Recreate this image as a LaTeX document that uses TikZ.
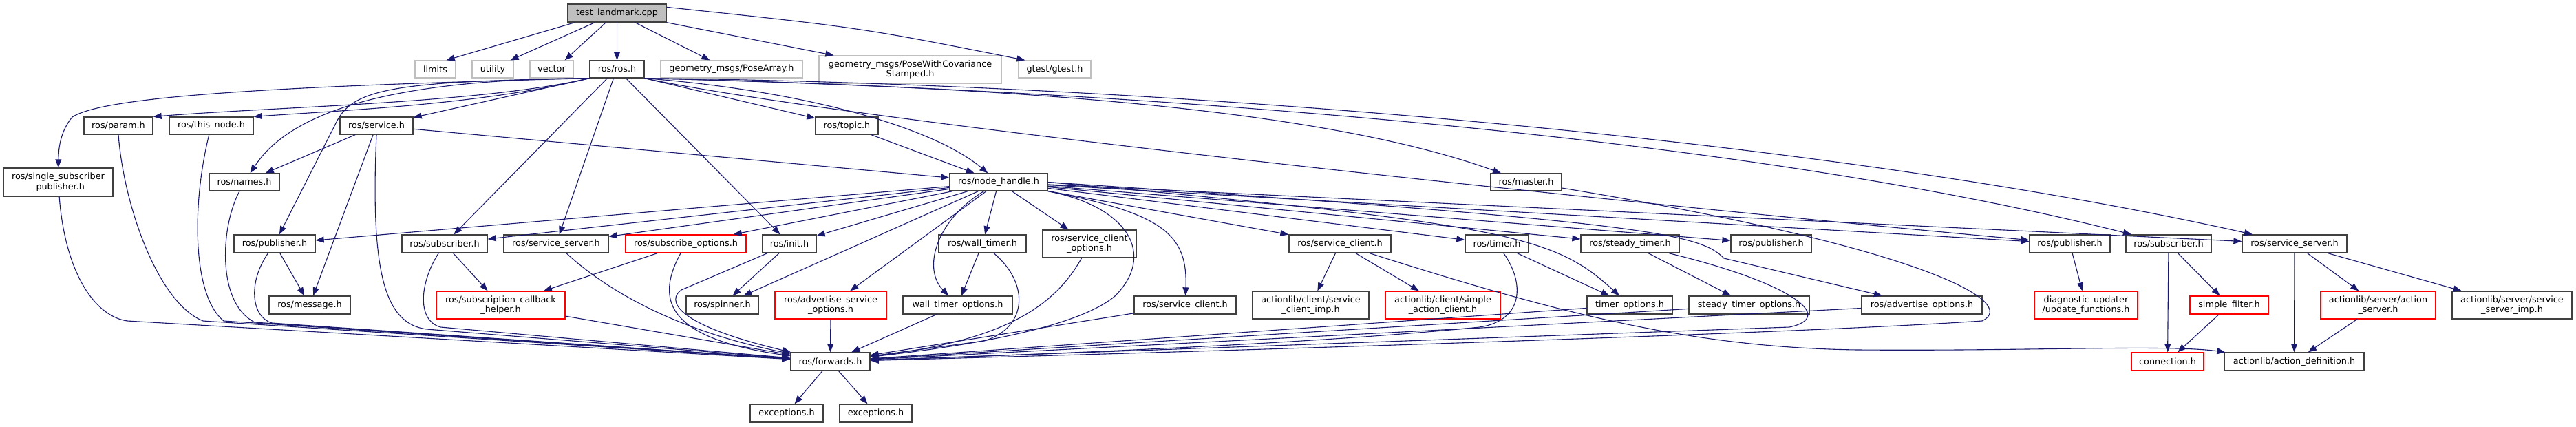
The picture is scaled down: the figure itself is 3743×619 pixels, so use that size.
\documentclass[tikz,border=0pt]{standalone}
\usepackage{fontspec}
\setmainfont{DejaVu Sans}
\usetikzlibrary{arrows.meta}
\definecolor{edgec}{HTML}{191970}
\definecolor{nodeb}{HTML}{404040}
\definecolor{redb}{HTML}{FF0000}
\definecolor{grayb}{HTML}{BFBFBF}
\tikzset{
 box/.style={draw=nodeb, line width=1.3pt, fill=white, inner sep=0pt, font=\fontsize{12.8}{14.3}\selectfont, align=center},
 redbox/.style={box, draw=redb},
 graybox/.style={box, draw=grayb},
 rootbox/.style={box, fill=grayb},
 dep/.style={draw=edgec, line width=1.1pt, -{Triangle[length=12pt,width=9pt]}},
}
\newcommand\mybox[7]{\node[#1, minimum width={(#5-#3)*1pt}, minimum height={(#6-#4)*1pt}] (#2) at ({(#3+#5)/2},{(#4+#6)/2}) {#7};}
\begin{document}
\begin{tikzpicture}[x=1pt,y=-1pt]
\fill[white] (0,0) rectangle (3743,619);
\useasboundingbox (0,0) rectangle (3743,619);
% row 0/1
\mybox{rootbox}{tl}{825}{6}{968}{32}{test\_landmark.cpp}
\mybox{graybox}{limits}{603}{88}{662}{113}{limits}
\mybox{graybox}{utility}{686}{88}{746}{113}{utility}
\mybox{graybox}{vector}{770}{88}{833}{113}{vector}
\mybox{box}{ros}{857}{88}{936}{113}{ros/ros.h}
\mybox{graybox}{posearr}{960}{88}{1166}{113}{geometry\_msgs/PoseArray.h}
\mybox{graybox}{posecov}{1190}{81}{1455}{121}{geometry\_msgs/PoseWithCovariance\\Stamped.h}
\mybox{graybox}{gtest}{1480}{88}{1585}{113}{gtest/gtest.h}
% row 2
\mybox{box}{param}{122}{170}{222}{195}{ros/param.h}
\mybox{box}{thisnode}{246}{170}{368}{195}{ros/this\_node.h}
\mybox{box}{service}{494}{170}{600}{195}{ros/service.h}
\mybox{box}{topic}{1185}{170}{1276}{195}{ros/topic.h}
\mybox{box}{singlesub}{5}{244}{164}{285}{ros/single\_subscriber\\\_publisher.h}
\mybox{box}{names}{304}{252}{406}{277}{ros/names.h}
\mybox{box}{nh}{1380}{252}{1522}{277}{ros/node\_handle.h}
\mybox{box}{master}{2166}{252}{2269}{277}{ros/master.h}
% row 3
\mybox{box}{pubL}{340}{341}{458}{367}{ros/publisher.h}
\mybox{box}{subL}{584}{341}{708}{367}{ros/subscriber.h}
\mybox{box}{ssL}{732}{341}{884}{367}{ros/service\_server.h}
\mybox{redbox}{subopt}{909}{341}{1084}{367}{ros/subscribe\_options.h}
\mybox{box}{init}{1108}{341}{1186}{367}{ros/init.h}
\mybox{box}{walltimer}{1364}{341}{1491}{367}{ros/wall\_timer.h}
\mybox{box}{scopt}{1515}{334}{1651}{374}{ros/service\_client\\\_options.h}
\mybox{box}{scR3}{1873}{341}{2021}{367}{ros/service\_client.h}
\mybox{box}{timer}{2129}{341}{2221}{367}{ros/timer.h}
\mybox{box}{steady}{2297}{341}{2440}{367}{ros/steady\_timer.h}
\mybox{box}{pubM}{2515}{341}{2632}{367}{ros/publisher.h}
\mybox{box}{pubR}{2949}{341}{3066}{367}{ros/publisher.h}
\mybox{box}{subR}{3089}{341}{3213}{367}{ros/subscriber.h}
\mybox{box}{ssR}{3258}{341}{3410}{367}{ros/service\_server.h}
% row 4
\mybox{box}{message}{391}{430}{509}{456}{ros/message.h}
\mybox{redbox}{sch}{634}{423}{821}{463}{ros/subscription\_callback\\\_helper.h}
\mybox{box}{spinner}{997}{430}{1102}{456}{ros/spinner.h}
\mybox{redbox}{aso}{1126}{423}{1288}{463}{ros/advertise\_service\\\_options.h}
\mybox{box}{wto}{1312}{430}{1471}{456}{wall\_timer\_options.h}
\mybox{box}{sc4}{1648}{430}{1796}{456}{ros/service\_client.h}
\mybox{box}{scimp}{1820}{423}{1989}{463}{actionlib/client/service\\\_client\_imp.h}
\mybox{redbox}{sac}{2013}{423}{2180}{463}{actionlib/client/simple\\\_action\_client.h}
\mybox{box}{tio}{2306}{430}{2430}{456}{timer\_options.h}
\mybox{box}{sto}{2454}{430}{2629}{456}{steady\_timer\_options.h}
\mybox{box}{adv}{2705}{430}{2880}{456}{ros/advertise\_options.h}
\mybox{redbox}{upd}{2956}{423}{3106}{463}{diagnostic\_updater\\/update\_functions.h}
\mybox{redbox}{sfilter}{3182}{430}{3296}{456}{simple\_filter.h}
\mybox{redbox}{aserver}{3372}{423}{3539}{463}{actionlib/server/action\\\_server.h}
\mybox{box}{ssimp}{3563}{423}{3737}{463}{actionlib/server/service\\\_server\_imp.h}
% row 5/6
\mybox{box}{fw}{1149}{512}{1264}{538}{ros/forwards.h}
\mybox{redbox}{conn}{3097}{512}{3202}{538}{connection.h}
\mybox{box}{adef}{3232}{512}{3435}{538}{actionlib/action\_definition.h}
\mybox{box}{exc1}{1090}{587}{1196}{613}{exceptions.h}
\mybox{box}{exc2}{1220}{587}{1325}{613}{exceptions.h}
% ---- edges from root
\draw[dep] ([xshift=11pt]tl.south west) -- ([xshift=-14pt]limits.north east);
\draw[dep] ([xshift=40pt]tl.south west) -- ([xshift=-5pt]utility.north east);
\draw[dep] ([xshift=56pt]tl.south west) -- ([xshift=-13pt]vector.north east);
\draw[dep] (tl) -- (ros);
\draw[dep] ([xshift=-46pt]tl.south east) -- ([xshift=72pt]posearr.north west);
\draw[dep] (tl.south east) -- ([xshift=22pt]posecov.north west);
\draw[dep] ([yshift=-5pt]tl.north east) .. controls (1250,40) .. ([xshift=10pt]gtest.north west);
% ---- edges from ros/ros.h
\draw[dep] (ros.south west) .. controls (400,125) and (150,140) .. (105,170) .. controls (88,190) and (85,215) .. (singlesub);
\draw[dep] (ros.south west) .. controls (700,150) and (400,155) .. (param.north east);
\draw[dep] (ros.south west) .. controls (700,152) and (500,160) .. (thisnode.north east);
\draw[dep] (ros.south west) -- (service);
\draw[dep] (ros.south west) .. controls (560,115) and (420,165) .. (names);
\draw[dep] (ros.south west) .. controls (580,118) and (515,128) .. (490,175) -- (pubL);
\draw[dep] ([xshift=-14pt]ros.south) -- (subL);
\draw[dep] ([xshift=-5pt]ros.south) -- (ssL);
\draw[dep] ([xshift=13pt]ros.south) -- (init);
\draw[dep] (ros.south east) -- (topic);
\draw[dep] (ros.south east) .. controls (1150,130) and (1350,180) .. (nh);
\draw[dep] (ros.south east) .. controls (1400,125) and (1900,150) .. (master);
\draw[dep] (ros.south east) .. controls (1200,170) and (2200,280) .. (pubR);
\draw[dep] (ros.south east) .. controls (1600,130) and (2500,190) .. (subR);
\draw[dep] (ros.south east) .. controls (1600,120) and (2600,190) .. (ssR);
% ---- edges from node_handle
\draw[dep] (nh) -- (pubL);
\draw[dep] (nh) -- (subL);
\draw[dep] (nh) -- (ssL);
\draw[dep] (nh) -- (subopt);
\draw[dep] (nh) -- (init);
\draw[dep] (nh) -- (spinner);
\draw[dep] (nh) -- (aso);
\draw[dep] (nh) .. controls (1360,320) and (1340,390) .. (wto);
\draw[dep] (nh) -- (walltimer);
\draw[dep] (nh) -- (scopt);
\draw[dep] (nh.south east) .. controls (1640,300) and (1680,370) .. (1620,430) .. controls (1560,480) and (1380,505) .. (fw);
\draw[dep] (nh.south east) .. controls (1690,310) and (1726,340) .. (sc4);
\draw[dep] (nh) -- (scR3);
\draw[dep] (nh) -- (timer);
\draw[dep] (nh.east) .. controls (2200,325) and (2260,345) .. (tio);
\draw[dep] (nh) -- (steady);
\draw[dep] (nh.east) .. controls (2400,322) and (2470,340) .. (2505,375) -- (adv);
\draw[dep] (nh) -- (pubM);
\draw[dep] (nh) -- (pubR);
\draw[dep] (nh) -- (ssR);
% ---- other edges
\draw[dep] (topic) -- (nh);
\draw[dep] (service) -- (nh);
\draw[dep] (service) -- (names);
\draw[dep] (service) -- (message);
\draw[dep] (service.south) .. controls (538,400) and (560,470) .. (620,478) -- (fw);
\draw[dep] (singlesub) .. controls (95,400) and (140,460) .. (185,466) -- (fw);
\draw[dep] (param.south) .. controls (180,300) and (230,440) .. (295,466) -- (fw);
\draw[dep] (thisnode) .. controls (278,300) and (280,430) .. (325,466) -- (fw);
\draw[dep] (names) .. controls (320,330) and (315,440) .. (370,468) -- (fw);
\draw[dep] (pubL) .. controls (360,410) and (365,460) .. (395,469) -- (fw);
\draw[dep] (pubL) -- (message);
\draw[dep] (subL) .. controls (610,410) and (605,465) .. (640,475) -- (fw);
\draw[dep] (subL) -- (sch);
\draw[dep] (sch) -- (fw);
\draw[dep] (ssL) .. controls (880,420) and (980,480) .. (fw);
\draw[dep] (subopt) -- (sch);
\draw[dep] (subopt) .. controls (955,430) and (960,490) .. (fw);
\draw[dep] (init) -- (spinner);
\draw[dep] (init) -- (990,421) .. controls (970,435) and (975,470) .. (fw);
\draw[dep] (aso) -- (fw);
\draw[dep] (walltimer) -- (wto);
\draw[dep] (walltimer) .. controls (1495,410) and (1495,475) .. (1430,495) -- (fw);
\draw[dep] (wto) -- (fw);
\draw[dep] (scopt) .. controls (1530,450) and (1450,495) .. (fw);
\draw[dep] (sc4) -- (fw);
\draw[dep] (scR3) -- (scimp);
\draw[dep] (scR3) -- (sac);
\draw[dep] (scR3) .. controls (2250,450) and (2450,505) .. (2700,508) .. controls (2950,510) and (3150,500) .. (adef);
\draw[dep] (timer) -- (tio);
\draw[dep] (timer) .. controls (2215,410) and (2215,465) .. (2150,475) .. controls (1900,500) and (1500,515) .. (fw);
\draw[dep] (tio) -- (fw);
\draw[dep] (steady) -- (sto);
\draw[dep] (steady) .. controls (2600,410) and (2670,460) .. (2600,475) -- (fw);
\draw[dep] (sto) -- (fw);
\draw[dep] (adv) -- (fw);
\draw[dep] (master) .. controls (2800,360) and (2935,440) .. (2880,466) .. controls (2600,485) and (1700,512) .. (fw);
\draw[dep] (pubR) -- (upd);
\draw[dep] (subR) -- (conn);
\draw[dep] (subR) -- (sfilter);
\draw[dep] (sfilter) -- (conn);
\draw[dep] (ssR) -- (adef);
\draw[dep] (ssR) -- (aserver);
\draw[dep] (ssR) -- (ssimp);
\draw[dep] (aserver) -- (adef);
\draw[dep] (fw) -- (exc1);
\draw[dep] (fw) -- (exc2);
\end{tikzpicture}
\end{document}
